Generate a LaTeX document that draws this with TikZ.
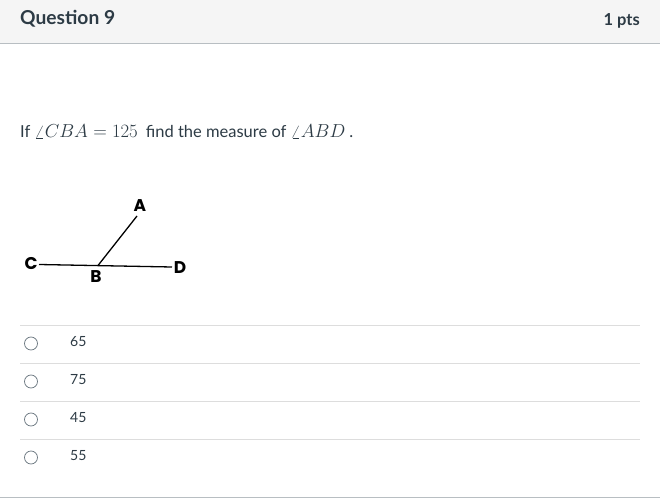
\RequirePackage{fix-cm}
\documentclass[tikz,border=0pt]{standalone}
\usepackage{fontspec}
\setmainfont{Lato}
\newfontfamily\figfont{Poppins}
\definecolor{hdrbg}{HTML}{F5F5F5}
\definecolor{hdrline}{HTML}{B8BEC2}
\definecolor{txt}{HTML}{2D3B45}
\definecolor{sep}{HTML}{DDDDDD}
\definecolor{radio}{HTML}{6B7780}
\newcommand{\bigmath}[1]{{\fontsize{18.8}{21}\selectfont$#1$}}
\tikzset{
  title/.style={font=\fontsize{19.2}{22}\selectfont\bfseries, text=txt},
  body/.style={font=\fontsize{16.5}{20}\selectfont, text=txt},
  ans/.style={font=\fontsize{14}{17}\selectfont, text=txt, anchor=west},
  sepline/.style={draw=sep, line width=0.9pt},
  radiobtn/.style={draw=radio, line width=0.7pt},
  lbl/.style={font=\figfont\fontsize{17}{20}\selectfont\bfseries, text=black, inner sep=0pt},
  seg/.style={draw=black, line width=1.3pt}
}
\begin{document}
\begin{tikzpicture}[x=1pt,y=-1pt]
\useasboundingbox (0,0) rectangle (660,502);
\fill[white] (0,0) rectangle (660,502);
% header
\fill[hdrbg] (0,0) rectangle (660,43);
\draw[hdrline, line width=1pt] (0,43.5) -- (660,43.5);
\node[title, anchor=west, inner sep=0pt] (q) at (20,19) {Question 9};
\node[title, anchor=east, inner sep=0pt, font=\fontsize{16.5}{20}\selectfont\bfseries] (pts) at (640,21) {1 pts};
% question text
\node[body, anchor=base west, inner sep=0pt] (qt) at (20,138) {If \bigmath{\angle CBA = 125}\hspace{8pt}find the measure of \bigmath{\angle ABD}\hspace{4pt}.};
% figure
\coordinate (Bp) at (98,265.5);
\coordinate (Cp) at (39,264.5);
\coordinate (Dp) at (172,267);
\coordinate (Ap) at (137,216);
\draw[seg] (Cp) -- (Dp);
\draw[seg] (Bp) -- (Ap);
\node[lbl] (A) at (140,206) {A};
\node[lbl] (B) at (96,277) {B};
\node[lbl] (C) at (31,264) {C};
\node[lbl] (D) at (180,267.5) {D};
% answers
\foreach \i/\v in {0/65,1/75,2/45,3/55}{
  \draw[sepline] (20,325+38*\i) -- (640,325+38*\i);
  \draw[radiobtn] (31,343.5+38*\i) circle[radius=6.5];
  \node[ans, inner sep=0pt] (a\i) at (70,342+38*\i) {\v};
}
\draw[hdrline, line width=1pt] (0,497.5) -- (660,497.5);
\end{tikzpicture}
\end{document}
